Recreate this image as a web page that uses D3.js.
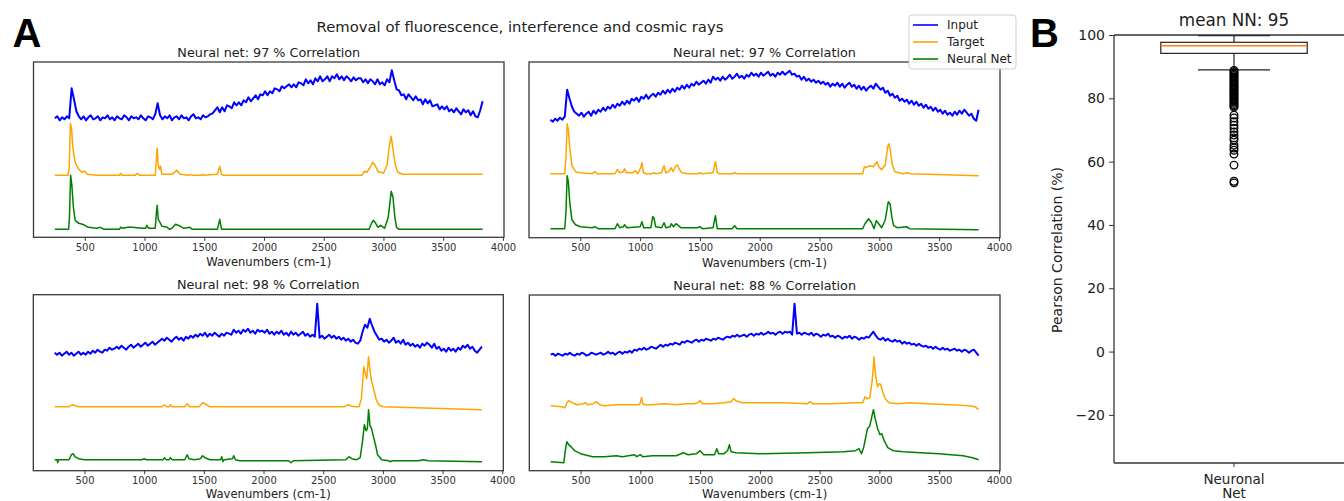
<!DOCTYPE html>
<html><head><meta charset="utf-8">
<script src="https://cdn.jsdelivr.net/npm/d3@7"></script>
<style>
body{margin:0;background:#fff}
svg{display:block}
text{font-family:"DejaVu Sans",sans-serif;fill:#222}
</style></head>
<body><svg id="chart" width="1344" height="501"></svg>
<script>
// ---------------- DATA ----------------
const suptitle = "Removal of fluorescence, interference and cosmic rays";
const panelTitles = ["Neural net: 97 % Correlation","Neural net: 97 % Correlation","Neural net: 98 % Correlation","Neural net: 88 % Correlation"];
const xLabel = "Wavenumbers (cm-1)";
const xTickValues = [500,1000,1500,2000,2500,3000,3500,4000];
const seriesNames = ["Input","Target","Neural Net"];

// sampling grid of the noisy input spectra (cm-1)
const inputWavenumbers = [
250,270,290,310,330,350,370,390,410,430,
450,470,490,510,530,550,570,590,610,630,
650,670,690,710,730,750,770,790,810,830,
850,870,890,910,930,950,970,990,1010,1030,
1050,1070,1090,1110,1130,1150,1170,1190,1210,1230,
1250,1270,1290,1310,1330,1350,1370,1390,1410,1430,
1450,1470,1490,1510,1530,1550,1570,1590,1610,1630,
1650,1670,1690,1710,1730,1750,1770,1790,1810,1830,
1850,1870,1890,1910,1930,1950,1970,1990,2010,2030,
2050,2070,2090,2110,2130,2150,2170,2190,2210,2230,
2250,2270,2290,2310,2330,2350,2370,2390,2410,2430,
2450,2470,2490,2510,2530,2550,2570,2590,2610,2630,
2650,2670,2690,2710,2730,2750,2770,2790,2810,2830,
2850,2870,2890,2910,2930,2950,2970,2990,3010,3030,
3050,3070,3090,3110,3130,3150,3170,3190,3210,3230,
3250,3270,3290,3310,3330,3350,3370,3390,3410,3430,
3450,3470,3490,3510,3530,3550,3570,3590,3610,3630,
3650,3670,3690,3710,3730,3750,3770,3790,3810,3830];

// Panel 1 (top-left)
const tlInput = [
119,121,117,120,118,121,119,149,138,126,121,
118,121,117,120,122,118,119,121,117,120,119,122,118,120,117,121,119,118,122,120,117,121,119,120,118,122,119,117,121,120,118,123,
134,122,
118,121,119,122,117,120,121,118,122,119,120,117,121,123,119,120,118,122,120,121,123,124,
127,
130,125,130,126,132,131,129,135,132,135,132,137,135,140,136,139,142,138,143,142,
146,142,146,144,149,148,146,151,149,151,153,150,153,150,155,154,152,158,154,157,
153,159,156,161,156,158,161,156,161,159,163,158,161,157,161,159,156,160,157,159,
159,155,158,154,158,156,153,158,153,155,152,158,155,
167,157,148,
147,142,143,138,143,140,137,141,137,138,133,138,134,137,131,132,133,128,131,128,
131,126,128,125,129,126,123,128,125,127,122,126,121,120,127,136];
const tlTarget = [[250,62],[360,62],[370,70],[380,114],[390,108],[400,90],[420,75],[450,68],[480,65],[500,66],[520,63],[600,62],[790,62],[800,64],[810,62],[920,62],[940,64],[960,62],[1090,62],[1100,80],[1106,89],[1115,72],[1125,68],[1135,71],[1145,63],[1230,63],[1270,67],[1300,63],[1370,62],[1385,63],[1400,62],[1480,62],[1490,63],[1500,62],[1610,63],[1630,71],[1645,63],[1660,62],[2820,62],[2840,66],[2860,65],[2890,70],[2910,75],[2930,72],[2960,65],[2980,65],[3000,64],[3030,72],[3050,92],[3065,101],[3080,88],[3100,72],[3120,65],[3160,63],[3220,63],[3830,63]];
const tlNeural = [[250,8],[365,8],[372,20],[382,62],[392,52],[405,30],[420,17],[450,14],[480,13],[500,12],[530,10],[600,9],[630,10],[660,8],[790,8],[800,10],[820,9],[860,10],[900,10],[980,9],[1010,9],[1020,12],[1035,9],[1090,9],[1100,25],[1106,32],[1115,18],[1130,15],[1145,11],[1190,10],[1210,8],[1230,9],[1260,13],[1280,12],[1300,11],[1330,9],[1380,10],[1400,8],[1610,8],[1630,18],[1645,8],[2880,8],[2900,14],[2915,17],[2935,14],[2955,10],[2975,12],[2990,11],[3010,9],[3040,20],[3065,46],[3080,40],[3095,20],[3110,10],[3130,8],[3830,8]];

// Panel 2 (top-right)
const trInput = [
118,116,119,117,120,118,121,
148,139,131,126,124,122,
125,121,124,126,122,127,124,128,
126,130,127,131,129,133,130,134,132,136,133,137,134,139,137,
140,136,141,139,143,139,142,144,141,145,143,147,144,
148,145,149,146,150,148,152,149,153,150,154,152,156,153,155,157,154,158,155,
161,158,160,157,161,158,160,163,159,161,164,160,162,159,163,161,165,162,164,161,
165,162,164,166,162,164,161,165,163,166,163,165,167,163,164,161,162,158,161,157,
159,156,158,155,157,154,156,153,
155,151,154,152,155,151,154,150,153,155,151,153,149,152,148,151,147,150,152,149,
154,151,148,150,145,147,142,144,140,142,137,139,136,138,134,137,133,136,132,134,
130,133,129,131,127,130,126,128,124,127,123,125,122,126,123,127,124,128,125,122,
124,119,117,128];
const trTarget = [[250,64],[370,64],[380,80],[390,114],[400,108],[412,90],[430,72],[460,66],[500,65],[600,64],[620,66],[640,64],[790,64],[810,68],[830,65],[860,66],[870,69],[885,65],[940,65],[960,67],[980,64],[1005,70],[1015,75],[1028,65],[1050,64],[1100,64],[1115,65],[1130,64],[1180,65],[1200,72],[1215,65],[1240,66],[1260,70],[1275,66],[1295,71],[1310,73],[1330,68],[1350,65],[1400,64],[1480,64],[1500,65],[1520,64],[1610,65],[1630,76],[1645,65],[1660,64],[1770,64],[1790,65],[1810,64],[2860,64],[2875,71],[2890,70],[2920,72],[2950,71],[2980,76],[3000,70],[3020,68],[3050,73],[3070,91],[3080,94],[3095,85],[3110,72],[3130,66],[3200,64],[3230,65],[3260,64],[3830,62]];
const trNeural = [[250,9],[370,9],[380,25],[390,62],[400,56],[412,35],[430,18],[460,13],[500,11],[600,10],[620,11],[650,9],[790,9],[810,14],[830,10],[860,11],[870,13],[890,10],[1000,11],[1015,16],[1030,10],[1090,10],[1105,21],[1115,20],[1130,11],[1180,10],[1200,15],[1215,10],[1250,11],[1260,14],[1280,11],[1300,14],[1320,12],[1340,10],[1480,10],[1500,11],[1520,9],[1610,10],[1630,22],[1645,9],[1770,9],[1790,12],[1810,9],[2860,9],[2880,14],[2910,19],[2935,15],[2955,9],[2975,17],[2995,14],[3020,10],[3050,18],[3075,36],[3090,34],[3105,20],[3120,12],[3150,10],[3230,11],[3250,9],[3830,8]];

// Panel 3 (bottom-left)
const blInput = [
118,116,118,115,117,119,116,118,115,117,119,116,118,
116,119,117,120,118,121,119,118,121,120,123,121,122,
124,122,125,123,121,124,126,123,125,127,124,126,
128,125,127,129,126,128,130,
132,130,133,131,129,132,134,131,133,130,134,132,135,133,136,134,137,135,
138,134,137,135,138,136,134,137,135,138,137,136,
141,138,140,137,141,139,142,138,140,137,141,139,140,
138,141,137,139,136,139,137,140,136,138,135,139,136,138,135,137,139,135,137,134,136,
134,167,133,
135,132,134,136,133,135,132,134,131,133,130,132,129,131,128,127,
130,139,146,143,152,145,139,135,131,
132,129,131,128,130,133,128,130,127,131,126,128,125,127,124,126,123,127,125,128,
126,123,127,122,124,120,122,119,123,120,122,119,123,121,125,123,126,122,124,120,
118,121,124];
const blTarget = [[250,64],[370,64],[400,66],[450,64],[1150,64],[1170,66],[1190,64],[1210,64],[1220,66],[1235,64],[1340,64],[1360,67],[1380,64],[1460,64],[1490,68],[1520,66],[1550,64],[2680,64],[2710,66],[2730,65],[2760,64],[2800,64],[2820,72],[2840,104],[2855,96],[2865,92],[2880,114],[2892,100],[2905,90],[2930,78],[2945,71],[2965,66],[3000,64],[3830,61]];
const blNeural = [[250,11],[270,11],[275,8],[282,11],[370,11],[390,16],[405,17],[420,14],[450,12],[500,11],[980,11],[1000,12],[1020,11],[1160,11],[1170,13],[1185,11],[1210,11],[1220,13],[1235,11],[1340,11],[1360,16],[1375,12],[1420,11],[1470,12],[1490,15],[1510,13],[1550,11],[1640,11],[1650,14],[1660,9],[1670,11],[1740,12],[1750,15],[1765,11],[1800,10],[2210,10],[2230,8],[2250,10],[2690,11],[2715,14],[2740,12],[2780,11],[2810,13],[2830,30],[2845,46],[2860,40],[2870,42],[2880,61],[2892,45],[2905,42],[2925,32],[2940,25],[2955,16],[2970,14],[2990,11],[3050,10],[3060,9],[3080,10],[3300,10],[3340,11],[3380,10],[3830,9]];

// Panel 4 (bottom-right)
const brInput = [
116,117,115,117,116,115,117,116,118,116,115,117,116,118,117,115,116,118,117,116,
117,118,116,117,119,117,118,116,118,119,117,119,118,
120,118,121,120,122,121,123,121,122,124,123,122,124,126,124,
126,125,127,126,128,127,126,129,128,130,129,128,130,131,129,131,130,132,131,130,
132,131,133,132,131,133,134,133,135,134,136,134,135,136,134,136,137,135,137,136,
138,136,137,139,137,138,136,138,139,137,139,138,139,136,
167,137,
138,136,138,137,136,138,135,137,136,134,136,135,137,134,135,133,135,134,132,134,
133,135,132,134,133,131,133,132,134,133,136,
139,135,
132,131,133,130,132,130,129,131,129,130,127,129,127,128,126,127,125,127,125,124,
125,123,124,122,124,122,121,123,121,122,120,121,122,120,121,119,121,120,118,120,
121,118,115];
const brTarget = [[250,65],[340,64],[370,63],[385,68],[400,70],[430,68],[470,66],[520,67],[540,68],[560,66],[610,67],[630,69],[660,66],[700,65],[800,66],[900,66],[990,66],[1000,68],[1010,73],[1020,67],[1040,66],[1100,66],[1200,67],[1300,66],[1380,67],[1450,67],[1480,68],[1500,70],[1520,67],[1600,67],[1700,68],[1760,69],[1780,72],[1800,70],[1850,68],[2000,68],[2200,68],[2400,67],[2420,69],[2440,67],[2600,67],[2800,68],[2860,68],[2880,74],[2895,72],[2920,73],[2940,90],[2955,114],[2968,95],[2985,84],[3000,87],[3012,86],[3030,78],[3050,72],[3080,68],[3150,67],[3250,68],[3400,67],[3600,66],[3750,65],[3800,64],[3830,61]];
const brNeural = [[250,9],[360,8],[372,20],[385,29],[400,26],[420,24],[450,20],[500,17],[600,14],[700,14],[800,15],[850,14],[950,16],[970,14],[1000,16],[1020,14],[1100,15],[1200,15],[1300,15],[1360,18],[1400,16],[1470,17],[1500,20],[1530,16],[1620,16],[1640,22],[1655,17],[1700,17],[1730,20],[1745,26],[1760,19],[1800,18],[2000,17],[2400,18],[2700,19],[2800,20],[2830,22],[2850,17],[2870,24],[2900,42],[2920,45],[2950,61],[2965,52],[2985,42],[3005,36],[3020,37],[3040,30],[3070,23],[3100,21],[3120,20],[3200,19],[3500,17],[3700,15],[3780,13],[3830,11]];

// Panel B (box plot)
const boxTitle = "mean NN: 95";
const boxCategories = ["Neuronal Net"];
const boxYLabel = "Pearson Correlation (%)";
const boxYTicks = [-20,0,20,40,60,80,100];
const boxQuartiles = [94.2, 96.6, 97.7];   // q1, median, q3
const boxWhiskers = [89.0, 99.8];           // low, high
const boxOutliers = [88.8,88.4,88.0,87.6,87.2,86.8,86.4,86.0,85.6,85.2,84.8,84.4,84.0,83.6,83.2,82.8,82.4,82.0,81.6,81.2,80.8,80.4,80.0,79.6,79.2,78.8,78.4,78.0,77.6,77.2,
  74.7,73.8,72.6,71.5,70.5,69.4,68.4,67.5,66.8,65.2,64.3,63.6,62.4,58.9,53.8,53.3];

// ---------------- DRAWING ----------------
const svg = d3.select("#chart");
const colors = ["#0000ff","#ffa500","#008000"];

const layout = [
  {x0:33.5, y0:62, x1:504, y1:237.3},
  {x0:529, y0:62, x1:1000, y1:237.7},
  {x0:33.3, y0:294.7, x1:503.3, y1:470.7},
  {x0:529.3, y0:295, x1:1000, y1:470.7}
];
const panelData = [
  {input: tlInput, target: tlTarget, nn: tlNeural},
  {input: trInput, target: trTarget, nn: trNeural},
  {input: blInput, target: blTarget, nn: blNeural},
  {input: brInput, target: brTarget, nn: brNeural}
];

// panel letters and suptitle
svg.append("text").attr("x",12.5).attr("y",47).style("font-family","'Liberation Sans',Arial,sans-serif")
  .style("font-weight","bold").style("font-size","40px").style("fill","#000").text("A");
svg.append("text").attr("x",1030).attr("y",47).style("font-family","'Liberation Sans',Arial,sans-serif")
  .style("font-weight","bold").style("font-size","40px").style("fill","#000").text("B");
svg.append("text").attr("x",520).attr("y",31.5).attr("text-anchor","middle").style("font-size","14.8px").text(suptitle);

panelData.forEach((pd, i) => {
  const L = layout[i];
  const x = d3.scaleLinear().domain([71, 4009]).range([L.x0, L.x1]);
  const y = d3.scaleLinear().domain([0, L.y1 - L.y0]).range([L.y1, L.y0]);
  const g = svg.append("g");
  const line = d3.line().x(d => x(d[0])).y(d => y(d[1]));

  const inputPts = inputWavenumbers.map((w, k) => [w, pd.input[k]]);
  g.append("path").datum(inputPts).attr("d", line).attr("fill","none")
    .attr("stroke", colors[0]).attr("stroke-width", 2).attr("stroke-linejoin","round");
  g.append("path").datum(pd.target).attr("d", line).attr("fill","none")
    .attr("stroke", colors[1]).attr("stroke-width", 1.5).attr("stroke-linejoin","round");
  g.append("path").datum(pd.nn).attr("d", line).attr("fill","none")
    .attr("stroke", colors[2]).attr("stroke-width", 1.5).attr("stroke-linejoin","round");

  // frame
  g.append("rect").attr("x", L.x0).attr("y", L.y0).attr("width", L.x1 - L.x0).attr("height", L.y1 - L.y0)
    .attr("fill","none").attr("stroke","#3a3a3a").attr("stroke-width",1.3);

  // x axis
  const ax = g.append("g").attr("transform", `translate(0,${L.y1})`)
    .call(d3.axisBottom(x).tickValues(xTickValues).tickSize(3.5).tickPadding(3).tickFormat(d3.format("d")));
  ax.select(".domain").remove();
  ax.selectAll("line").attr("stroke","#3a3a3a").attr("stroke-width",1);
  ax.selectAll("text").style("font-size","10px").style("fill","#333").style("font-family","'DejaVu Sans',sans-serif");

  g.append("text").attr("x", (L.x0 + L.x1) / 2).attr("y", Math.min(L.y1 + 29, 497.5)).attr("text-anchor","middle")
    .style("font-size","11.6px").text(xLabel);
  g.append("text").attr("x", (L.x0 + L.x1) / 2).attr("y", L.y0 - 5.5).attr("text-anchor","middle")
    .style("font-size","12.8px").text(panelTitles[i]);
});

// legend (drawn over the top-right panel)
const lg = svg.append("g");
lg.append("rect").attr("x",909).attr("y",15).attr("width",107).attr("height",54).attr("rx",3)
  .attr("fill","#fff").attr("fill-opacity",0.92).attr("stroke","#d0d0d0").attr("stroke-width",1);
seriesNames.forEach((n, i) => {
  const yy = 25 + i * 17;
  lg.append("line").attr("x1",913).attr("x2",938).attr("y1",yy).attr("y2",yy)
    .attr("stroke",colors[i]).attr("stroke-width",1.6);
  lg.append("text").attr("x",947).attr("y",yy).attr("dy","0.36em").style("font-size","12px").text(n);
});

// ---------------- Panel B ----------------
const bx = d3.scaleBand().domain(boxCategories).range([1114, 1354]);
const by = d3.scaleLinear().domain([-35.2, 100]).range([463, 35]);
const bg = svg.append("g");
const cx = bx(boxCategories[0]) + bx.bandwidth() / 2;
const boxW = bx.bandwidth() * 0.61, capW = bx.bandwidth() * 0.3;
const stroke = "#222";

// whiskers
bg.append("line").attr("x1",cx).attr("x2",cx).attr("y1",by(boxQuartiles[2])).attr("y2",by(boxWhiskers[1])).attr("stroke",stroke).attr("stroke-width",1.2);
bg.append("line").attr("x1",cx).attr("x2",cx).attr("y1",by(boxQuartiles[0])).attr("y2",by(boxWhiskers[0])).attr("stroke",stroke).attr("stroke-width",1.2);
boxWhiskers.forEach(w => bg.append("line").attr("x1",cx - capW/2).attr("x2",cx + capW/2).attr("y1",by(w)).attr("y2",by(w)).attr("stroke",stroke).attr("stroke-width",1.2));
// box
bg.append("rect").attr("x",cx - boxW/2).attr("y",by(boxQuartiles[2])).attr("width",boxW)
  .attr("height",by(boxQuartiles[0]) - by(boxQuartiles[2])).attr("fill","none").attr("stroke",stroke).attr("stroke-width",1.2);
bg.append("line").attr("x1",cx - boxW/2).attr("x2",cx + boxW/2).attr("y1",by(boxQuartiles[1])).attr("y2",by(boxQuartiles[1]))
  .attr("stroke","#ff7f0e").attr("stroke-width",1.5);
// outliers
bg.selectAll("circle.o").data(boxOutliers).enter().append("circle").attr("class","o")
  .attr("cx",cx).attr("cy",d => by(d)).attr("r",3.8).attr("fill","none").attr("stroke","#000").attr("stroke-width",1.3);

// spines
bg.append("line").attr("x1",1114).attr("x2",1114).attr("y1",35).attr("y2",463).attr("stroke","#333").attr("stroke-width",1.3);
bg.append("line").attr("x1",1114).attr("x2",1354).attr("y1",35).attr("y2",35).attr("stroke","#333").attr("stroke-width",1.3);
bg.append("line").attr("x1",1114).attr("x2",1354).attr("y1",463).attr("y2",463).attr("stroke","#333").attr("stroke-width",1.3);

const yAx = bg.append("g").attr("transform","translate(1114,0)")
  .call(d3.axisLeft(by).tickValues(boxYTicks).tickSize(5).tickPadding(4));
yAx.select(".domain").remove();
yAx.selectAll("line").attr("stroke","#333");
yAx.selectAll("text").style("font-size","14px").style("fill","#222").style("font-family","'DejaVu Sans',sans-serif");

const xAx = bg.append("g").attr("transform","translate(0,463)")
  .call(d3.axisBottom(bx).tickSize(4).tickFormat(""));
xAx.select(".domain").remove();
xAx.selectAll("line").attr("stroke","#333");
// two-line category label as one text element
const catText = bg.append("text").attr("x",cx).attr("y",484).attr("text-anchor","middle").style("font-size","13.5px");
boxCategories[0].split(" ").forEach((w, i) => {
  catText.append("tspan").attr("x",cx).attr("dy", i === 0 ? 0 : 13.5).text(w);
});

bg.append("text").attr("x",cx).attr("y",26).attr("text-anchor","middle").style("font-size","16.8px").text(boxTitle);
bg.append("text").attr("transform","translate(1062,250) rotate(-90)").attr("text-anchor","middle")
  .style("font-size","14px").text(boxYLabel);
</script></body></html>
